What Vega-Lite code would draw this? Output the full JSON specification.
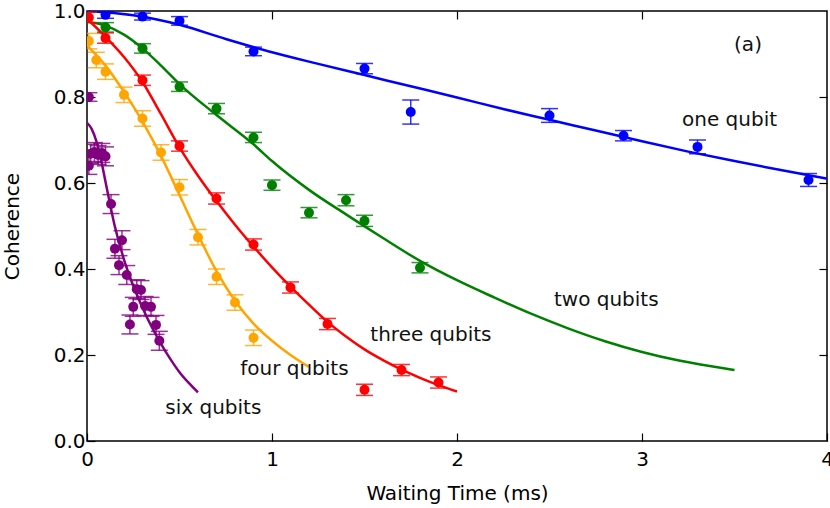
{
  "$schema": "https://vega.github.io/schema/vega-lite/v6.json",
  "width": 740,
  "height": 430,
  "autosize": "none",
  "padding": {"left": 87, "top": 11, "right": 3, "bottom": 67},
  "background": "white",
  "config": {
    "font": "DejaVu Sans",
    "view": {"stroke": "black", "strokeWidth": 1.5},
    "axis": {
      "domain": false,
      "grid": false,
      "labelFlush": false,
      "tickColor": "black",
      "tickWidth": 1.2,
      "tickSize": -8,
      "labelFont": "DejaVu Sans",
      "labelFontSize": 20,
      "labelColor": "black",
      "titleFont": "DejaVu Sans",
      "titleFontSize": 20,
      "titleFontWeight": "normal",
      "titleColor": "black"
    }
  },
  "datasets": {
    "curves": [
      {"series": "one", "t": 0, "c": 1.0},
      {"series": "one", "t": 0.25, "c": 0.99},
      {"series": "one", "t": 0.5, "c": 0.968},
      {"series": "one", "t": 0.75, "c": 0.935},
      {"series": "one", "t": 1.0, "c": 0.904},
      {"series": "one", "t": 1.25, "c": 0.877},
      {"series": "one", "t": 1.5, "c": 0.851},
      {"series": "one", "t": 1.75, "c": 0.825},
      {"series": "one", "t": 2.0, "c": 0.799},
      {"series": "one", "t": 2.25, "c": 0.772},
      {"series": "one", "t": 2.5, "c": 0.747},
      {"series": "one", "t": 2.75, "c": 0.722},
      {"series": "one", "t": 3.0, "c": 0.697},
      {"series": "one", "t": 3.25, "c": 0.673},
      {"series": "one", "t": 3.5, "c": 0.651},
      {"series": "one", "t": 3.75, "c": 0.63},
      {"series": "one", "t": 4.0, "c": 0.61},
      {"series": "two", "t": 0, "c": 0.975},
      {"series": "two", "t": 0.1, "c": 0.966},
      {"series": "two", "t": 0.2, "c": 0.945},
      {"series": "two", "t": 0.3, "c": 0.913},
      {"series": "two", "t": 0.4, "c": 0.873},
      {"series": "two", "t": 0.5, "c": 0.83},
      {"series": "two", "t": 0.7, "c": 0.758},
      {"series": "two", "t": 0.9, "c": 0.69},
      {"series": "two", "t": 1.0, "c": 0.651},
      {"series": "two", "t": 1.2, "c": 0.584},
      {"series": "two", "t": 1.4, "c": 0.527},
      {"series": "two", "t": 1.6, "c": 0.472},
      {"series": "two", "t": 1.8, "c": 0.419},
      {"series": "two", "t": 2.0, "c": 0.374},
      {"series": "two", "t": 2.2, "c": 0.334},
      {"series": "two", "t": 2.4, "c": 0.296},
      {"series": "two", "t": 2.6, "c": 0.262},
      {"series": "two", "t": 2.8, "c": 0.232},
      {"series": "two", "t": 3.0, "c": 0.207},
      {"series": "two", "t": 3.2, "c": 0.187},
      {"series": "two", "t": 3.4, "c": 0.172},
      {"series": "two", "t": 3.5, "c": 0.165},
      {"series": "three", "t": 0, "c": 0.982},
      {"series": "three", "t": 0.1, "c": 0.94},
      {"series": "three", "t": 0.2, "c": 0.893},
      {"series": "three", "t": 0.3, "c": 0.835},
      {"series": "three", "t": 0.4, "c": 0.76},
      {"series": "three", "t": 0.5, "c": 0.683},
      {"series": "three", "t": 0.6, "c": 0.617},
      {"series": "three", "t": 0.7, "c": 0.558},
      {"series": "three", "t": 0.8, "c": 0.503},
      {"series": "three", "t": 0.9, "c": 0.452},
      {"series": "three", "t": 1.0, "c": 0.404},
      {"series": "three", "t": 1.1, "c": 0.359},
      {"series": "three", "t": 1.2, "c": 0.317},
      {"series": "three", "t": 1.3, "c": 0.277},
      {"series": "three", "t": 1.4, "c": 0.243},
      {"series": "three", "t": 1.5, "c": 0.213},
      {"series": "three", "t": 1.6, "c": 0.188},
      {"series": "three", "t": 1.7, "c": 0.166},
      {"series": "three", "t": 1.8, "c": 0.147},
      {"series": "three", "t": 1.9, "c": 0.13},
      {"series": "three", "t": 2.0, "c": 0.115},
      {"series": "four", "t": 0, "c": 0.92},
      {"series": "four", "t": 0.1, "c": 0.873},
      {"series": "four", "t": 0.2, "c": 0.812},
      {"series": "four", "t": 0.3, "c": 0.743},
      {"series": "four", "t": 0.4, "c": 0.663},
      {"series": "four", "t": 0.5, "c": 0.572},
      {"series": "four", "t": 0.6, "c": 0.48},
      {"series": "four", "t": 0.7, "c": 0.395},
      {"series": "four", "t": 0.8, "c": 0.326},
      {"series": "four", "t": 0.9, "c": 0.273},
      {"series": "four", "t": 1.0, "c": 0.233},
      {"series": "four", "t": 1.1, "c": 0.2},
      {"series": "four", "t": 1.2, "c": 0.172},
      {"series": "six", "t": 0, "c": 0.74},
      {"series": "six", "t": 0.025, "c": 0.726},
      {"series": "six", "t": 0.05, "c": 0.698},
      {"series": "six", "t": 0.075, "c": 0.656},
      {"series": "six", "t": 0.1, "c": 0.603},
      {"series": "six", "t": 0.15, "c": 0.5},
      {"series": "six", "t": 0.2, "c": 0.422},
      {"series": "six", "t": 0.25, "c": 0.361},
      {"series": "six", "t": 0.3, "c": 0.31},
      {"series": "six", "t": 0.35, "c": 0.265},
      {"series": "six", "t": 0.4, "c": 0.226},
      {"series": "six", "t": 0.45, "c": 0.191},
      {"series": "six", "t": 0.5, "c": 0.16},
      {"series": "six", "t": 0.55, "c": 0.135},
      {"series": "six", "t": 0.6, "c": 0.113}
    ],
    "points": [
      {"series": "one", "t": 0.1, "c": 0.991, "lo": 0.983, "hi": 0.999},
      {"series": "one", "t": 0.3, "c": 0.987, "lo": 0.979, "hi": 0.995},
      {"series": "one", "t": 0.5, "c": 0.977, "lo": 0.967, "hi": 0.987},
      {"series": "one", "t": 0.9, "c": 0.906, "lo": 0.896, "hi": 0.916},
      {"series": "one", "t": 1.5, "c": 0.866, "lo": 0.854, "hi": 0.878},
      {"series": "one", "t": 1.75, "c": 0.765, "lo": 0.737, "hi": 0.793},
      {"series": "one", "t": 2.5, "c": 0.757, "lo": 0.741, "hi": 0.773},
      {"series": "one", "t": 2.9, "c": 0.71, "lo": 0.698, "hi": 0.722},
      {"series": "one", "t": 3.3, "c": 0.684, "lo": 0.668, "hi": 0.7},
      {"series": "one", "t": 3.9, "c": 0.607, "lo": 0.592, "hi": 0.622},
      {"series": "two", "t": 0.1, "c": 0.962, "lo": 0.951, "hi": 0.973},
      {"series": "two", "t": 0.3, "c": 0.913, "lo": 0.902, "hi": 0.924},
      {"series": "two", "t": 0.5, "c": 0.824, "lo": 0.813, "hi": 0.835},
      {"series": "two", "t": 0.7, "c": 0.773, "lo": 0.761, "hi": 0.785},
      {"series": "two", "t": 0.9, "c": 0.706, "lo": 0.694, "hi": 0.718},
      {"series": "two", "t": 1.0, "c": 0.595, "lo": 0.583, "hi": 0.607},
      {"series": "two", "t": 1.2, "c": 0.531, "lo": 0.519, "hi": 0.543},
      {"series": "two", "t": 1.4, "c": 0.56, "lo": 0.547, "hi": 0.573},
      {"series": "two", "t": 1.5, "c": 0.512, "lo": 0.499, "hi": 0.525},
      {"series": "two", "t": 1.8, "c": 0.403, "lo": 0.391, "hi": 0.415},
      {"series": "three", "t": 0.01, "c": 0.985, "lo": 0.973, "hi": 0.997},
      {"series": "three", "t": 0.1, "c": 0.937, "lo": 0.925, "hi": 0.949},
      {"series": "three", "t": 0.3, "c": 0.839, "lo": 0.827, "hi": 0.851},
      {"series": "three", "t": 0.5, "c": 0.686, "lo": 0.674, "hi": 0.698},
      {"series": "three", "t": 0.7, "c": 0.564, "lo": 0.551, "hi": 0.577},
      {"series": "three", "t": 0.9, "c": 0.457, "lo": 0.444, "hi": 0.47},
      {"series": "three", "t": 1.1, "c": 0.357, "lo": 0.344, "hi": 0.37},
      {"series": "three", "t": 1.3, "c": 0.272, "lo": 0.259, "hi": 0.285},
      {"series": "three", "t": 1.5, "c": 0.119, "lo": 0.106, "hi": 0.132},
      {"series": "three", "t": 1.7, "c": 0.165, "lo": 0.152, "hi": 0.178},
      {"series": "three", "t": 1.9, "c": 0.136, "lo": 0.123, "hi": 0.149},
      {"series": "four", "t": 0.01, "c": 0.93, "lo": 0.912, "hi": 0.948},
      {"series": "four", "t": 0.05, "c": 0.886, "lo": 0.868, "hi": 0.904},
      {"series": "four", "t": 0.1, "c": 0.859, "lo": 0.841, "hi": 0.877},
      {"series": "four", "t": 0.2, "c": 0.805, "lo": 0.787, "hi": 0.823},
      {"series": "four", "t": 0.3, "c": 0.75, "lo": 0.732, "hi": 0.768},
      {"series": "four", "t": 0.4, "c": 0.671, "lo": 0.653, "hi": 0.689},
      {"series": "four", "t": 0.5, "c": 0.59, "lo": 0.572, "hi": 0.608},
      {"series": "four", "t": 0.6, "c": 0.474, "lo": 0.456, "hi": 0.492},
      {"series": "four", "t": 0.7, "c": 0.382, "lo": 0.364, "hi": 0.4},
      {"series": "four", "t": 0.8, "c": 0.322, "lo": 0.304, "hi": 0.34},
      {"series": "four", "t": 0.9, "c": 0.24, "lo": 0.222, "hi": 0.258},
      {"series": "six", "t": 0.01, "c": 0.8, "lo": 0.79, "hi": 0.81},
      {"series": "six", "t": 0.01, "c": 0.64, "lo": 0.62, "hi": 0.66},
      {"series": "six", "t": 0.02, "c": 0.668, "lo": 0.646, "hi": 0.69},
      {"series": "six", "t": 0.04, "c": 0.672, "lo": 0.65, "hi": 0.694},
      {"series": "six", "t": 0.06, "c": 0.665, "lo": 0.643, "hi": 0.687},
      {"series": "six", "t": 0.08, "c": 0.67, "lo": 0.648, "hi": 0.692},
      {"series": "six", "t": 0.1, "c": 0.662, "lo": 0.64, "hi": 0.684},
      {"series": "six", "t": 0.13, "c": 0.551, "lo": 0.529, "hi": 0.573},
      {"series": "six", "t": 0.151, "c": 0.447, "lo": 0.425, "hi": 0.469},
      {"series": "six", "t": 0.173, "c": 0.409, "lo": 0.387, "hi": 0.431},
      {"series": "six", "t": 0.189, "c": 0.467, "lo": 0.445, "hi": 0.489},
      {"series": "six", "t": 0.215, "c": 0.386, "lo": 0.364, "hi": 0.408},
      {"series": "six", "t": 0.232, "c": 0.271, "lo": 0.249, "hi": 0.293},
      {"series": "six", "t": 0.25, "c": 0.312, "lo": 0.29, "hi": 0.334},
      {"series": "six", "t": 0.269, "c": 0.353, "lo": 0.331, "hi": 0.375},
      {"series": "six", "t": 0.292, "c": 0.351, "lo": 0.329, "hi": 0.373},
      {"series": "six", "t": 0.314, "c": 0.314, "lo": 0.292, "hi": 0.336},
      {"series": "six", "t": 0.346, "c": 0.312, "lo": 0.29, "hi": 0.334},
      {"series": "six", "t": 0.373, "c": 0.27, "lo": 0.248, "hi": 0.292},
      {"series": "six", "t": 0.391, "c": 0.233, "lo": 0.211, "hi": 0.255}
    ],
    "labels": [
      {"label": "(a)", "t": 3.573, "c": 0.921},
      {"label": "one qubit", "t": 3.473, "c": 0.747},
      {"label": "two qubits", "t": 2.807, "c": 0.328},
      {"label": "three qubits", "t": 1.859, "c": 0.2465},
      {"label": "four qubits", "t": 1.121, "c": 0.1667},
      {"label": "six qubits", "t": 0.683, "c": 0.076}
    ]
  },
  "layer": [
    {
      "data": {"name": "curves"},
      "mark": {"type": "line", "strokeWidth": 2.5, "interpolate": "monotone", "clip": true},
      "encoding": {
        "x": {
          "field": "t",
          "type": "quantitative",
          "scale": {"domain": [0, 4], "nice": false},
          "axis": {"values": [0, 1, 2, 3, 4], "format": "d", "title": "Waiting Time (ms)", "labelPadding": 16, "titlePadding": 14}
        },
        "y": {
          "field": "c",
          "type": "quantitative",
          "scale": {"domain": [0, 1], "nice": false},
          "axis": {"values": [0, 0.2, 0.4, 0.6, 0.8, 1.0], "format": ".1f", "title": "Coherence", "labelPadding": 10, "titlePadding": 31}
        },
        "color": {
          "field": "series",
          "type": "nominal",
          "scale": {"domain": ["one", "two", "three", "four", "six"], "range": ["#0000ff", "#008000", "#ff0000", "#ffa500", "#800080"]},
          "legend": null
        }
      }
    },
    {
      "data": {"name": "points"},
      "mark": {"type": "errorbar", "ticks": {"size": 17}, "thickness": 1.5, "opacity": 0.8, "clip": true},
      "encoding": {
        "x": {"field": "t", "type": "quantitative", "axis": null},
        "y": {"field": "lo", "type": "quantitative", "axis": null},
        "y2": {"field": "hi"},
        "color": {"field": "series", "type": "nominal", "legend": null}
      }
    },
    {
      "data": {"name": "points"},
      "mark": {"type": "circle", "size": 100, "opacity": 1, "clip": true},
      "encoding": {
        "x": {"field": "t", "type": "quantitative", "axis": null},
        "y": {"field": "c", "type": "quantitative", "axis": null},
        "color": {"field": "series", "type": "nominal", "legend": null}
      }
    },
    {
      "data": {"name": "labels"},
      "mark": {"type": "text", "fontSize": 20, "font": "DejaVu Sans", "align": "center", "baseline": "middle", "color": "#111111"},
      "encoding": {
        "x": {"field": "t", "type": "quantitative", "axis": {"orient": "top", "values": [1, 2, 3], "labels": false, "title": null}},
        "y": {"field": "c", "type": "quantitative", "axis": {"orient": "right", "values": [0.2, 0.4, 0.6, 0.8], "labels": false, "title": null}},
        "text": {"field": "label"}
      }
    }
  ],
  "resolve": {"axis": {"x": "independent", "y": "independent"}}
}
